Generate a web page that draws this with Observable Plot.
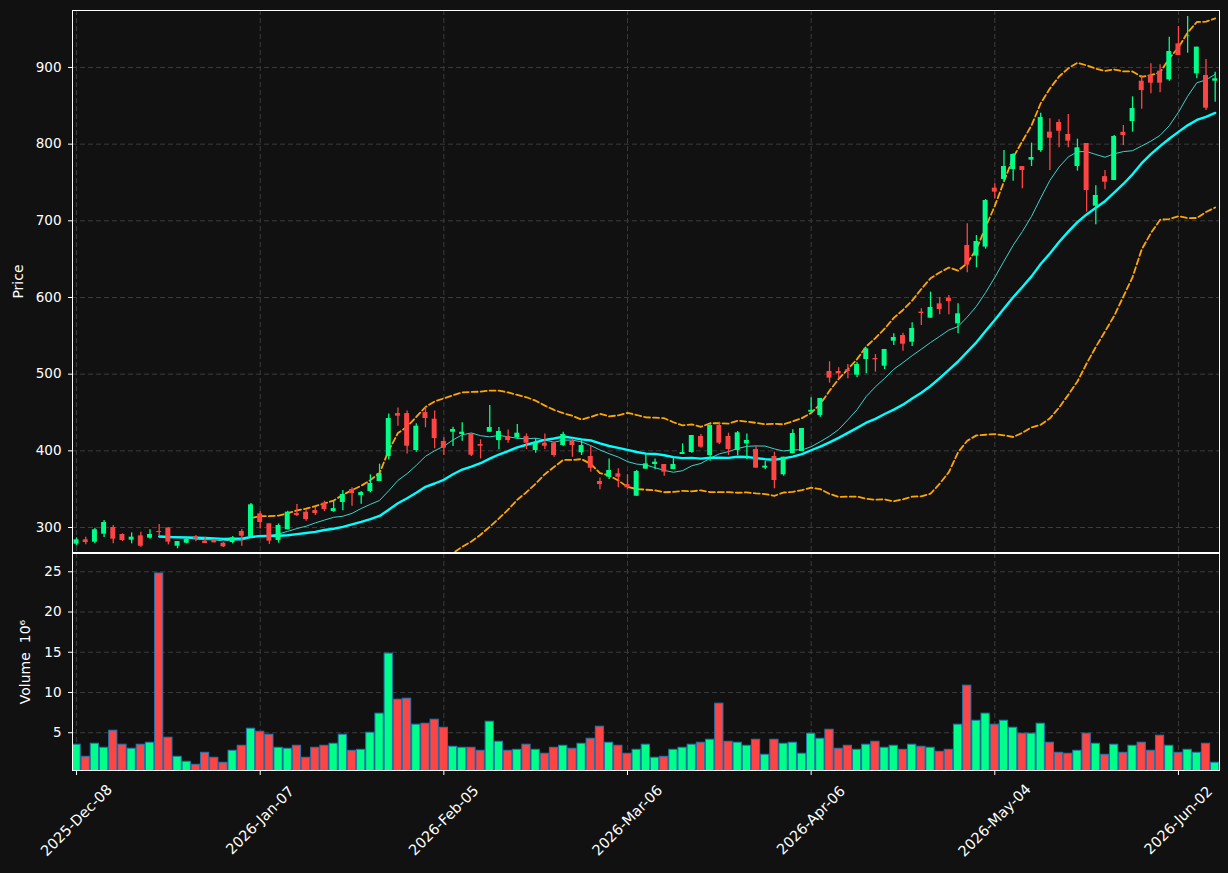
<!DOCTYPE html>
<html>
<head>
<meta charset="utf-8">
<script src="https://cdn.jsdelivr.net/npm/d3@7"></script>
<script src="https://cdn.jsdelivr.net/npm/@observablehq/plot@0.6"></script>
<style>
  html, body { margin: 0; padding: 0; background: #111111; }
  #chart { width: 1228px; height: 873px; background: #111111; }
  #chart svg { display: block; }
</style>
</head>
<body>
<div id="chart"></div>
<script>
// Daily OHLC prices, one entry per trading session (2025-12-08 .. 2026-06-05)
const opens = [
  278.3, 283.9, 280.9, 291.3, 300.0, 290.9, 283.5, 289.1, 286.1, 294.8,
  299.5, 275.6, 279.5, 288.2, 282.2, 283.5, 279.5, 280.4, 294.8, 288.2,
  317.8, 304.8, 283.1, 297.0, 318.2, 319.9, 322.1, 331.7, 320.8, 332.6,
  349.5, 341.7, 346.9, 360.0, 392.6, 448.6, 448.6, 400.4, 449.9, 441.3,
  412.1, 424.3, 421.3, 421.3, 408.2, 424.3, 413.4, 418.6, 416.9, 418.6,
  400.4, 410.0, 410.0, 406.9, 412.6, 397.4, 392.6, 360.0, 365.6, 370.0,
  356.0, 340.8, 376.1, 382.2, 382.2, 375.6, 395.2, 397.8, 418.7, 393.9,
  433.0, 418.7, 400.4, 409.1, 401.7, 377.4, 392.6, 368.7, 396.1, 399.1,
  450.4, 446.1, 503.5, 503.5, 505.6, 498.7, 519.1, 520.4, 510.4, 543.0,
  550.4, 541.7, 580.9, 573.0, 591.7, 599.1, 565.6, 667.8, 653.9, 665.7,
  742.6, 753.9, 766.9, 770.8, 779.1, 791.7, 815.6, 828.2, 812.6, 770.8,
  800.8, 719.1, 757.6, 752.6, 815.4, 829.5, 882.1, 889.5, 895.2, 883.9,
  930.8, 940.2, 891.7, 889.5, 882.1
];
const highs = [
  286.5, 287.4, 299.1, 309.1, 302.6, 291.7, 293.0, 293.9, 297.0, 303.9,
  299.5, 281.7, 287.4, 289.6, 287.4, 283.5, 280.4, 288.2, 297.4, 331.3,
  320.8, 304.8, 304.8, 321.3, 330.0, 323.0, 326.5, 334.3, 335.2, 348.2,
  351.7, 346.9, 368.7, 382.6, 448.2, 456.0, 452.1, 435.2, 456.9, 452.1,
  416.9, 430.8, 436.5, 422.1, 414.3, 459.1, 430.4, 427.3, 434.3, 422.1,
  415.6, 422.1, 411.3, 424.3, 415.6, 413.4, 406.0, 364.7, 389.5, 376.5,
  368.7, 374.3, 396.9, 389.5, 382.2, 391.7, 409.1, 420.0, 421.3, 433.9,
  437.4, 423.0, 425.2, 422.1, 406.0, 386.5, 398.2, 391.7, 427.4, 429.1,
  469.1, 468.3, 516.1, 508.2, 512.6, 515.2, 533.0, 525.6, 532.2, 552.6,
  553.5, 566.9, 585.2, 607.0, 600.0, 602.6, 591.7, 696.1, 680.9, 727.8,
  748.2, 791.7, 787.4, 770.8, 801.3, 840.4, 833.0, 831.7, 838.7, 806.5,
  800.8, 745.6, 765.6, 811.3, 824.3, 861.7, 889.5, 904.7, 903.4, 939.5,
  953.4, 966.5, 926.5, 910.4, 893.9
];
const lows = [
  276.1, 277.4, 278.7, 287.0, 278.7, 281.7, 278.7, 274.3, 284.8, 289.6,
  277.4, 272.2, 278.7, 281.3, 279.1, 280.0, 273.9, 278.7, 275.6, 287.4,
  298.2, 277.9, 279.6, 297.0, 314.3, 308.2, 315.6, 320.8, 320.0, 321.7,
  327.8, 330.4, 345.2, 360.0, 388.2, 432.1, 396.0, 398.2, 430.0, 402.6,
  393.9, 405.6, 412.6, 392.6, 389.5, 424.3, 401.3, 410.0, 415.2, 401.7,
  396.9, 401.7, 391.7, 405.6, 391.7, 393.9, 372.1, 349.1, 362.6, 351.7,
  349.0, 340.8, 376.1, 375.2, 367.0, 375.6, 395.2, 396.9, 403.5, 386.5,
  408.2, 393.9, 393.9, 388.7, 377.4, 375.2, 350.4, 366.9, 396.1, 399.1,
  449.1, 443.9, 488.3, 493.5, 493.9, 495.2, 500.4, 502.6, 506.1, 537.4,
  530.0, 536.1, 563.5, 573.0, 577.4, 577.4, 552.6, 632.2, 638.7, 663.1,
  728.7, 751.7, 751.7, 741.7, 770.8, 789.5, 765.6, 795.2, 795.2, 764.8,
  711.3, 694.8, 740.4, 752.6, 798.2, 815.6, 845.6, 865.6, 866.9, 882.1,
  915.6, 918.6, 885.2, 843.9, 854.7
];
const closes = [
  283.9, 280.4, 297.0, 306.5, 284.8, 283.0, 287.4, 275.6, 290.9, 293.5,
  280.9, 281.7, 284.3, 285.2, 279.1, 280.0, 274.8, 286.5, 288.7, 329.6,
  306.5, 282.2, 302.6, 320.0, 315.6, 310.4, 318.2, 323.4, 324.7, 343.0,
  344.3, 345.6, 357.4, 370.4, 442.1, 445.2, 406.0, 432.1, 442.1, 416.0,
  403.4, 427.8, 424.3, 394.3, 406.0, 430.4, 425.2, 413.4, 423.0, 410.0,
  410.0, 406.0, 393.9, 421.3, 406.9, 406.9, 377.3, 356.0, 374.3, 365.6,
  351.7, 373.0, 383.0, 385.2, 372.2, 382.2, 397.8, 420.0, 404.8, 433.0,
  410.0, 401.7, 423.5, 413.5, 377.4, 380.0, 361.3, 391.7, 422.6, 429.1,
  452.8, 468.3, 494.8, 500.4, 503.5, 512.6, 533.0, 518.7, 532.2, 547.8,
  539.1, 559.6, 579.1, 587.0, 584.3, 594.8, 578.7, 642.2, 673.0, 726.5,
  737.4, 770.8, 786.5, 765.6, 782.6, 834.7, 807.8, 816.9, 803.9, 795.2,
  739.5, 733.0, 750.4, 810.0, 811.3, 846.5, 869.9, 879.5, 879.5, 920.8,
  915.6, 941.0, 926.5, 846.9, 885.2
];
// Session volume, millions of shares
const volumes = [
  3.51, 2.01, 3.63, 3.13, 5.25, 3.51, 3.01, 3.51, 3.76, 24.79,
  4.38, 2.01, 1.39, 1.02, 2.51, 1.89, 1.27, 2.76, 3.38, 5.50,
  5.12, 4.75, 3.13, 3.01, 3.38, 1.89, 3.13, 3.38, 3.63, 4.75,
  2.76, 2.88, 5.00, 7.37, 14.83, 9.11, 9.23, 6.00, 6.12, 6.62,
  5.62, 3.26, 3.13, 3.13, 2.76, 6.37, 3.88, 2.76, 2.88, 3.51,
  2.88, 2.39, 3.13, 3.38, 3.01, 3.63, 4.25, 5.75, 3.76, 3.38,
  2.39, 2.88, 3.51, 1.89, 2.01, 2.88, 3.13, 3.51, 3.76, 4.13,
  8.61, 3.88, 3.76, 3.38, 4.13, 2.26, 4.13, 3.63, 3.76, 2.39,
  4.88, 4.25, 5.37, 3.01, 3.38, 2.88, 3.51, 3.88, 3.13, 3.38,
  2.88, 3.51, 3.26, 3.13, 2.63, 2.88, 6.00, 10.85, 6.49, 7.37,
  6.00, 6.49, 5.62, 4.88, 4.88, 6.12, 3.76, 2.51, 2.39, 2.76,
  4.88, 3.63, 2.26, 3.51, 2.51, 3.38, 3.76, 2.76, 4.63, 3.38,
  2.51, 2.88, 2.51, 3.63, 1.27
];

// Date ticks: session index -> label
const tickIndex = [0, 20, 40, 60, 80, 100, 120];
const tickLabels = ["2025-Dec-08", "2026-Jan-07", "2026-Feb-05", "2026-Mar-06", "2026-Apr-06", "2026-May-04", "2026-Jun-02"];
const priceTicks = [300, 400, 500, 600, 700, 800, 900];
const volumeTicks = [5, 10, 15, 20, 25];

const UP = "#00ff88";
const DOWN = "#ff4444";
const BG = "#111111";

const rows = closes.map((c, i) => ({
  i, open: opens[i], high: highs[i], low: lows[i], close: c,
  volume: volumes[i], color: c >= opens[i] ? UP : DOWN
}));

const xDomain = [-0.44, 124.47];
const gridStyle = {stroke: "#3c3c3c", strokeOpacity: 1, strokeWidth: 1, strokeDasharray: "5,3"};
const baseStyle = {background: BG, color: "white", fontFamily: "DejaVu Sans, sans-serif", fontSize: "13px", overflow: "visible"};
const tickText = {frameAnchor: "left", dx: -11, textAnchor: "end", lineAnchor: "middle", fill: "white", fontSize: 13.5};

// Rolling reducers over closing prices
const mean10 = {k: 10, anchor: "end", strict: true, reduce: "mean"};
const mean20 = {k: 20, anchor: "end", strict: false, reduce: (v) => v.length < 10 ? NaN : d3.mean(v)};
const bandUp = {k: 20, anchor: "end", strict: true, reduce: (v) => d3.mean(v) + 2 * d3.deviation(v)};
const bandDn = {k: 20, anchor: "end", strict: true, reduce: (v) => d3.mean(v) - 2 * d3.deviation(v)};

const pricePanel = Plot.plot({
  width: 1228, height: 553,
  marginTop: 10, marginBottom: 1, marginLeft: 72, marginRight: 9,
  style: baseStyle,
  x: {domain: xDomain, axis: null},
  y: {domain: [267.4, 974.3], axis: null},
  marks: [
    Plot.gridY(priceTicks, gridStyle),
    Plot.gridX(tickIndex, gridStyle),
    Plot.lineY(rows, Plot.windowY(bandUp, {x: "i", y: "close", stroke: "#ffa500", strokeWidth: 1.8, strokeDasharray: "6,3", clip: true})),
    Plot.lineY(rows, Plot.windowY(bandDn, {x: "i", y: "close", stroke: "#ffa500", strokeWidth: 1.8, strokeDasharray: "6,3", clip: true})),
    Plot.lineY(rows, Plot.windowY(mean10, {x: "i", y: "close", stroke: "#40d0c8", strokeWidth: 1, clip: true})),
    Plot.lineY(rows, Plot.windowY(mean20, {x: "i", y: "close", stroke: "#00ffff", strokeWidth: 2.4, clip: true})),
    Plot.ruleX(rows, {x: "i", y1: "low", y2: "high", stroke: "color", strokeWidth: 1.3}),
    Plot.rect(rows, {x1: (d) => d.i - 0.27, x2: (d) => d.i + 0.27, y1: "open", y2: "close", fill: "color"}),
    Plot.frame({stroke: "white", strokeWidth: 1}),
    Plot.axisY({ticks: priceTicks, tickSize: 4, tickFormat: () => "", label: null}),
    Plot.text(priceTicks, {y: (d) => d, text: (d) => String(d), ...tickText}),
    Plot.text(["Price"], {frameAnchor: "left", dx: -54, rotate: -90, text: (d) => d, fill: "white", fontSize: 14, textAnchor: "middle", lineAnchor: "middle"})
  ]
});

const volumePanel = Plot.plot({
  width: 1228, height: 320,
  marginTop: 0, marginBottom: 103, marginLeft: 72, marginRight: 9,
  style: baseStyle,
  x: {domain: xDomain, axis: null},
  y: {domain: [0.3 * d3.min(volumes), 1.1 * d3.max(volumes)], axis: null},
  marks: [
    Plot.gridY(volumeTicks, gridStyle),
    Plot.gridX(tickIndex, gridStyle),
    Plot.rect(rows, {x1: (d) => d.i - 0.45, x2: (d) => d.i + 0.45, y1: 0, y2: "volume", fill: "color", stroke: "#1f77b4", strokeWidth: 1, clip: true}),
    Plot.frame({stroke: "white", strokeWidth: 1}),
    Plot.axisY({ticks: volumeTicks, tickSize: 4, tickFormat: () => "", label: null}),
    Plot.text(volumeTicks, {y: (d) => d, text: (d) => String(d), ...tickText}),
    Plot.text(["Volume  10⁶"], {frameAnchor: "left", dx: -47, rotate: -90, text: (d) => d, fill: "white", fontSize: 14, textAnchor: "middle", lineAnchor: "middle"}),
    Plot.axisX({ticks: tickIndex, tickSize: 5, tickFormat: () => "", label: null}),
    Plot.text(tickIndex, {x: (d) => d, frameAnchor: "bottom", dy: 50, text: (d) => tickLabels[tickIndex.indexOf(d)], rotate: -45, fill: "white", fontSize: 14.5, textAnchor: "middle", lineAnchor: "middle"})
  ]
});

const chart = document.getElementById("chart");
chart.append(pricePanel, volumePanel);
</script>
</body>
</html>
